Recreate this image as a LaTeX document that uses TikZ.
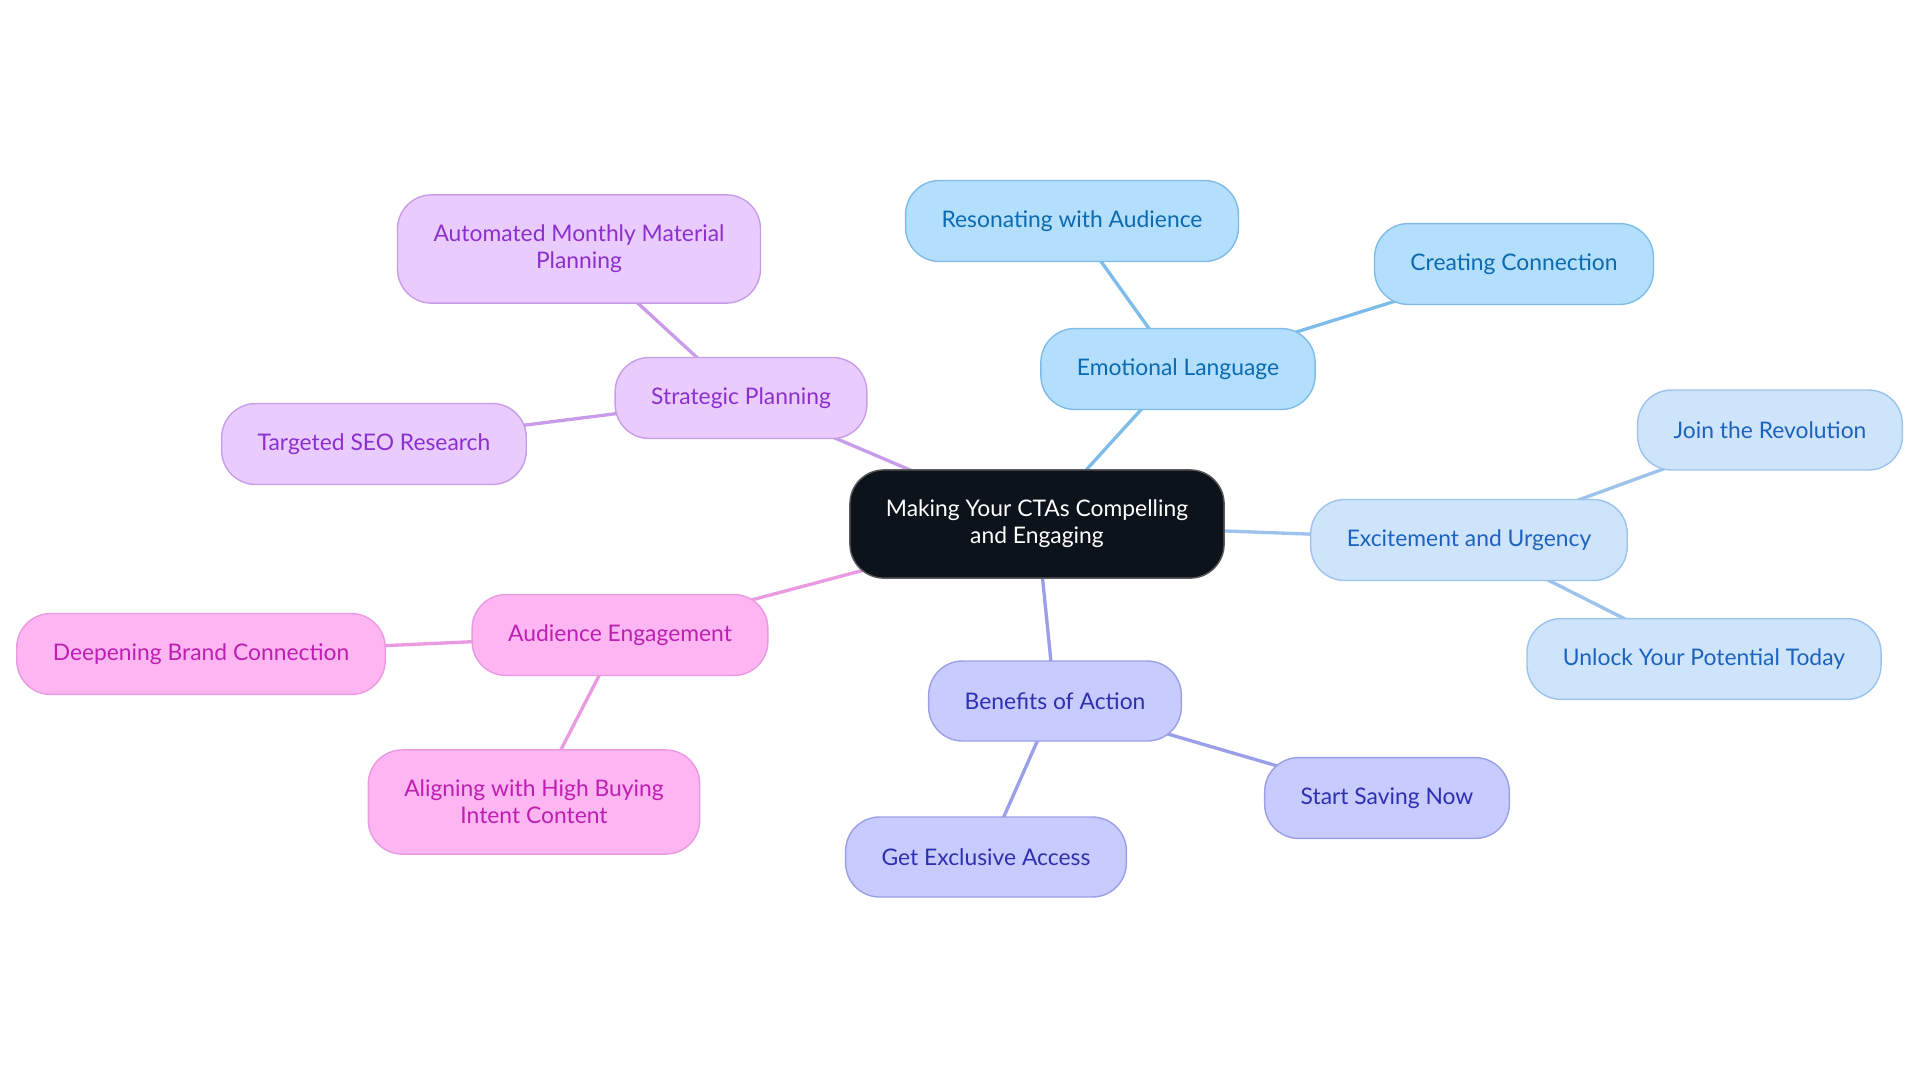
\documentclass[tikz,border=0pt]{standalone}
\usepackage{fontspec}
\setmainfont{Lato}
\usetikzlibrary{backgrounds}

\definecolor{rootfill}{HTML}{0C131B}
\definecolor{emofill}{HTML}{B3DEFC}
\definecolor{emoline}{HTML}{7DBCE8}
\definecolor{emotext}{HTML}{0B6AB0}
\definecolor{excfill}{HTML}{CDE4FB}
\definecolor{excline}{HTML}{9DC3EC}
\definecolor{exctext}{HTML}{1C62BE}
\definecolor{benfill}{HTML}{C8CBFD}
\definecolor{benline}{HTML}{9B9FE8}
\definecolor{bentext}{HTML}{2E30B0}
\definecolor{audfill}{HTML}{FDB6F2}
\definecolor{audline}{HTML}{EA9AE1}
\definecolor{audtext}{HTML}{BE1EB2}
\definecolor{strfill}{HTML}{E9CCFD}
\definecolor{strline}{HTML}{C99CEA}
\definecolor{strtext}{HTML}{8B30CF}

\tikzset{
  pill/.style={rounded corners=0.68cm, line width=0.8pt, align=center,
    inner xsep=0.72cm, inner ysep=0.6cm, minimum height=1.6cm, font=\fontsize{13}{15.5}\selectfont},
  rootbox/.style={pill, fill=rootfill, draw=gray!70!black, text=white, minimum height=2.08cm},
  emobox/.style={pill, fill=emofill, draw=emoline, text=emotext},
  excbox/.style={pill, fill=excfill, draw=excline, text=exctext},
  benbox/.style={pill, fill=benfill, draw=benline, text=bentext},
  audbox/.style={pill, fill=audfill, draw=audline, text=audtext},
  strbox/.style={pill, fill=strfill, draw=strline, text=strtext},
  link/.style={line width=1.9pt}
}

\begin{document}
\begin{tikzpicture}[x=0.02cm,y=-0.02cm]
\useasboundingbox (0,0) rectangle (1920,1083);

% centre
\node[rootbox] (root) at (1037,524) {Making Your CTAs Compelling\\and Engaging};

% emotional language
\node[emobox] (emo) at (1178,369) {Emotional Language};
\node[emobox] (reson) at (1072,221) {Resonating with Audience};
\node[emobox] (creat) at (1514,264) {Creating Connection};

% excitement and urgency
\node[excbox] (exc) at (1469,540) {Excitement and Urgency};
\node[excbox] (join) at (1770,430) {Join the Revolution};
\node[excbox] (unlock) at (1704,659) {Unlock Your Potential Today};

% benefits of action
\node[benbox] (ben) at (1055,701) {Benefits of Action};
\node[benbox] (saving) at (1387,798) {Start Saving Now};
\node[benbox] (access) at (986,857) {Get Exclusive Access};

% audience engagement
\node[audbox] (aud) at (620,635) {Audience Engagement};
\node[audbox] (brand) at (201,654) {Deepening Brand Connection};
\node[audbox] (intent) at (534,802) {Aligning with High Buying\\Intent Content};

% strategic planning
\node[strbox] (strat) at (741,398) {Strategic Planning};
\node[strbox] (monthly) at (579,249) {Automated Monthly Material\\Planning};
\node[strbox] (seo) at (374,444) {Targeted SEO Research};

\begin{pgfonlayer}{background}
\draw[link,emoline] (root.center) -- (emo.center);
\draw[link,emoline] (emo.center) -- (reson.center);
\draw[link,emoline] (emo.center) -- (creat.center);
\draw[link,excline] (root.center) -- (exc.center);
\draw[link,excline] (exc.center) -- (join.center);
\draw[link,excline] (exc.center) -- (unlock.center);
\draw[link,benline] (root.center) -- (ben.center);
\draw[link,benline] (ben.center) -- (saving.center);
\draw[link,benline] (ben.center) -- (access.center);
\draw[link,audline] (root.center) -- (aud.center);
\draw[link,audline] (aud.center) -- (brand.center);
\draw[link,audline] (aud.center) -- (intent.center);
\draw[link,strline] (root.center) -- (strat.center);
\draw[link,strline] (strat.center) -- (monthly.center);
\draw[link,strline] (strat.center) -- (seo.center);
\end{pgfonlayer}
\end{tikzpicture}
\end{document}
